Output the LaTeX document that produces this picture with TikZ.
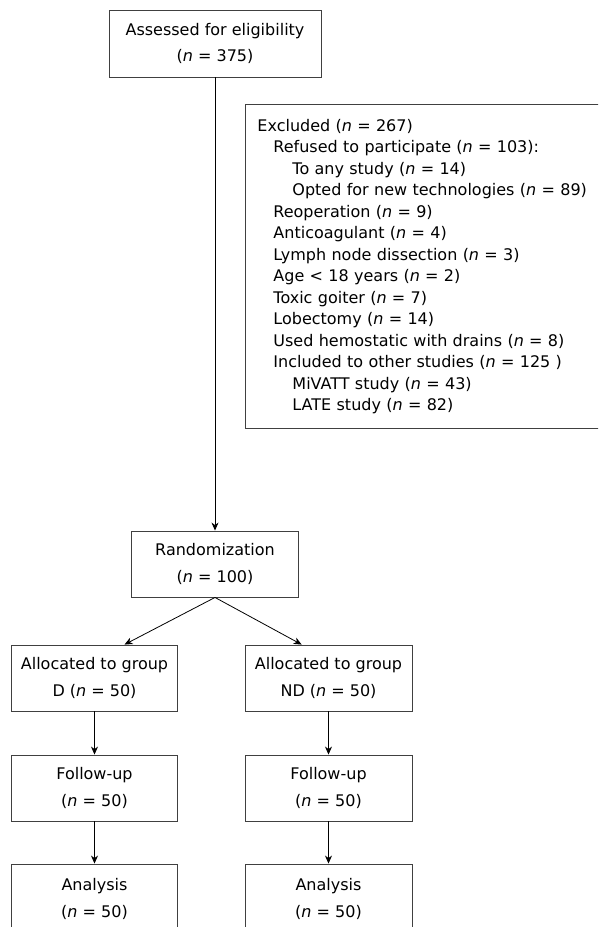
\documentclass[tikz,border=0pt]{standalone}
\usepackage{fontspec}
\setmainfont{DejaVu Sans}
\usepackage{tikz}
\usetikzlibrary{arrows.meta}
\usetikzlibrary{calc}
\tikzset{box/.style = {draw = black!75, line width = 0.9, align = center, inner sep = 0,
                       font = \fontsize{16}{26.5}\selectfont}}
\tikzset{listbox/.style = {draw = black!75, line width = 0.9, align = left, anchor = north west,
                       inner xsep = 12, inner ysep = 0, text width = 356,
                       font = \fontsize{16}{21.5}\selectfont}}
\tikzset{conn/.style = {-{Stealth[length = 8, width = 7, inset = 2.5]}, line width = 0.8}}
\newcommand{\nn}{\textit{n}}

\begin{document}
\begin{tikzpicture}[x = 1pt, y = -1pt]
    \useasboundingbox (0, 0) rectangle (598, 927);
    \clip (0, 0) rectangle (598, 927);
    \node [box, minimum width = 212, minimum height = 67] (assess) at (215, 43.5)
        {Assessed for eligibility\\(\nn{} = 375)};
    \node [listbox, minimum height = 324] (excl) at (245, 104)
        {Excluded (\nn{} = 267)\\
         \hspace*{16pt}Refused to participate (\nn{} = 103):\\
         \hspace*{35pt}To any study (\nn{} = 14)\\
         \hspace*{35pt}Opted for new technologies (\nn{} = 89)\\
         \hspace*{16pt}Reoperation (\nn{} = 9)\\
         \hspace*{16pt}Anticoagulant (\nn{} = 4)\\
         \hspace*{16pt}Lymph node dissection (\nn{} = 3)\\
         \hspace*{16pt}Age < 18 years (\nn{} = 2)\\
         \hspace*{16pt}Toxic goiter (\nn{} = 7)\\
         \hspace*{16pt}Lobectomy (\nn{} = 14)\\
         \hspace*{16pt}Used hemostatic with drains (\nn{} = 8)\\
         \hspace*{16pt}Included to other studies (\nn{} = 125 )\\
         \hspace*{35pt}MiVATT study (\nn{} = 43)\\
         \hspace*{35pt}LATE study (\nn{} = 82)};
    \node [box, minimum width = 167, minimum height = 66] (rand) at (215, 564)
        {Randomization\\(\nn{} = 100)};
    \node [box, minimum width = 166, minimum height = 66] (grpd) at (94.5, 678)
        {Allocated to group\\D (\nn{} = 50)};
    \node [box, minimum width = 167, minimum height = 66] (grpnd) at (328.5, 678)
        {Allocated to group\\ND (\nn{} = 50)};
    \node [box, minimum width = 166, minimum height = 66] (fold) at (94.5, 788)
        {Follow-up\\(\nn{} = 50)};
    \node [box, minimum width = 167, minimum height = 66] (folnd) at (328.5, 788)
        {Follow-up\\(\nn{} = 50)};
    \node [box, minimum width = 166, minimum height = 70] (anad) at (94.5, 899)
        {Analysis\\(\nn{} = 50)};
    \node [box, minimum width = 167, minimum height = 70] (anand) at (328.5, 899)
        {Analysis\\(\nn{} = 50)};

    \draw [conn] (assess) -- (rand);
    \draw [conn] (rand.south) -- ($(grpd.north west)!0.68!(grpd.north east)$);
    \draw [conn] (rand.south) -- ($(grpnd.north west)!0.34!(grpnd.north east)$);
    \draw [conn] (grpd) -- (fold);
    \draw [conn] (grpnd) -- (folnd);
    \draw [conn] (fold) -- (anad);
    \draw [conn] (folnd) -- (anand);
\end{tikzpicture}
\end{document}
